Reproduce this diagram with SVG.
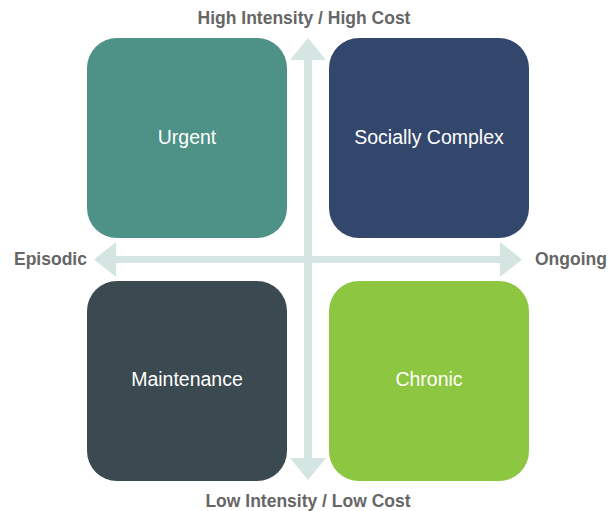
<svg xmlns="http://www.w3.org/2000/svg" width="610" height="511" viewBox="0 0 610 511">
<style>
.box{stroke:none}
.lbl{font-family:"Liberation Sans",Arial,sans-serif;font-size:19.5px;fill:#ffffff;text-anchor:middle}
.ax{font-family:"Liberation Sans",Arial,sans-serif;font-size:17.5px;font-weight:bold;fill:#666666}
.arr{fill:#D4E5E2}
</style>
<rect width="610" height="511" fill="#ffffff"/>
<g id="connectors">
<path class="arr" d="M304 60 H312 V256 H500 V242 L522 259.5 L500 277 V263 H312 V458 H326 L308 480 L290 458 H304 V263 H116 V277 L94 259.5 L116 242 V256 H304 Z M308 38 L326 60 L290 60 Z"/>
</g>
<g id="urgent">
<rect class="box" x="87" y="38" width="200" height="200" rx="30" fill="#4E9187"/>
<text class="lbl" x="187" y="144">Urgent</text>
</g>
<g id="socially-complex">
<rect class="box" x="329" y="38" width="200" height="200" rx="30" fill="#33476D"/>
<text class="lbl" x="429" y="144">Socially Complex</text>
</g>
<g id="maintenance">
<rect class="box" x="87" y="281" width="200" height="200" rx="30" fill="#3B4A50"/>
<text class="lbl" x="187" y="386">Maintenance</text>
</g>
<g id="chronic">
<rect class="box" x="329" y="281" width="200" height="200" rx="30" fill="#8DC641"/>
<text class="lbl" x="429" y="386">Chronic</text>
</g>
<text class="ax" x="304" y="24" text-anchor="middle">High Intensity / High Cost</text>
<text class="ax" x="308" y="507" text-anchor="middle">Low Intensity / Low Cost</text>
<text class="ax" x="14" y="265">Episodic</text>
<text class="ax" x="535" y="265">Ongoing</text>
</svg>
